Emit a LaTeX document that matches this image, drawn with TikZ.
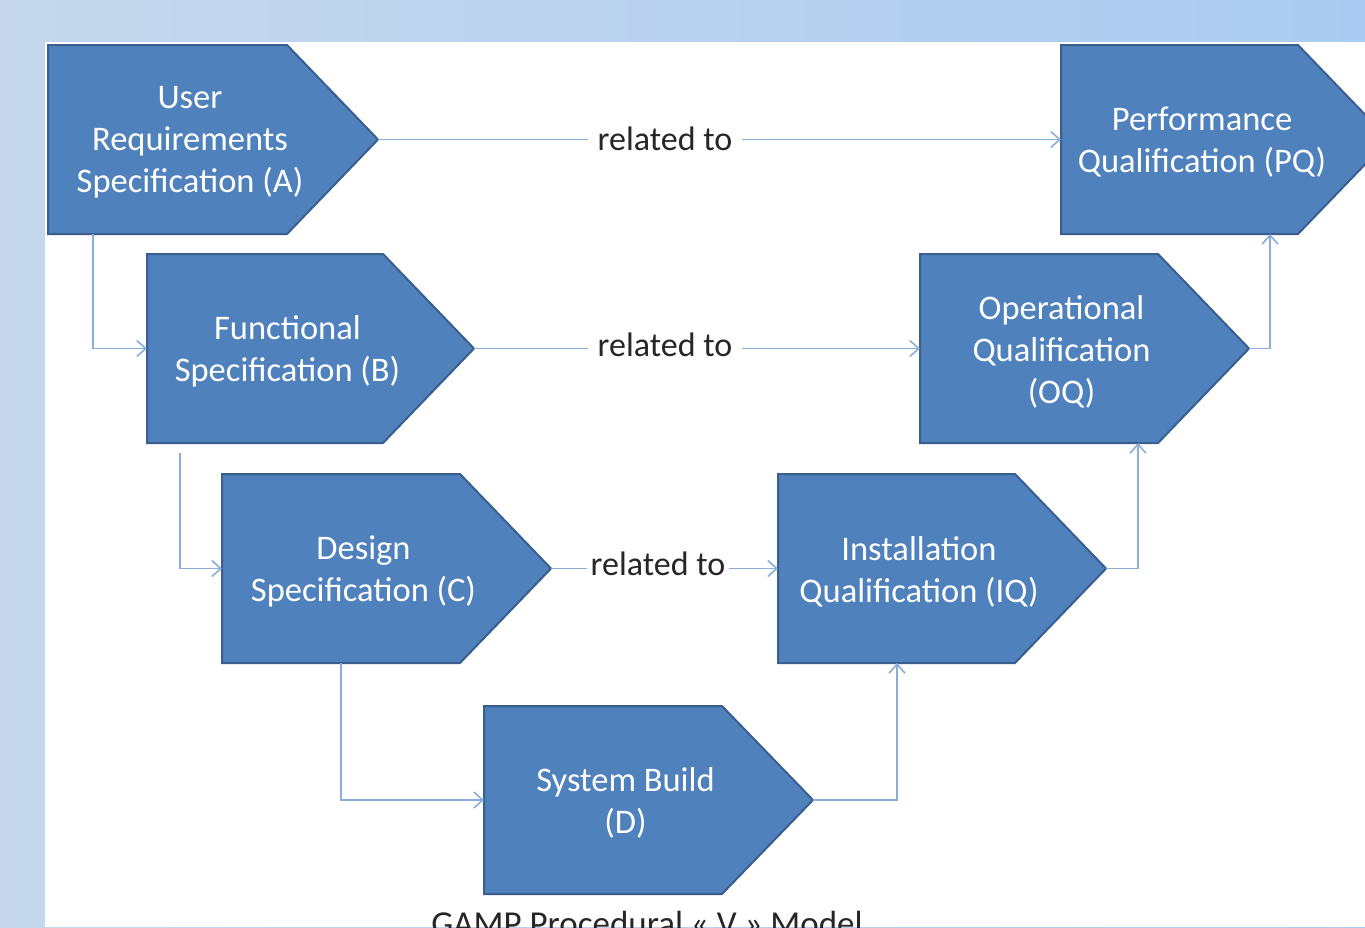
\documentclass[tikz,border=0pt]{standalone}
\usepackage{fontspec}
\setmainfont{Carlito}
\usetikzlibrary{arrows.meta}

\definecolor{boxblue}{HTML}{4F81BD}
\definecolor{boxedge}{HTML}{3A5F8E}
\definecolor{linkblue}{HTML}{8AAEDB}
\definecolor{labelgray}{HTML}{262626}
\definecolor{bgleft}{HTML}{C6D7EC}
\definecolor{bgright}{HTML}{AACBF1}

\tikzset{
  stepshape/.style={fill=boxblue, draw=boxedge, line width=2pt, line join=miter},
  steptext/.style={text=white, align=center, font=\fontsize{34.5}{42}\selectfont, inner sep=0pt},
  link/.style={draw=linkblue, line width=1.6pt,
    -{Straight Barb[length=9pt,width=16pt,line width=1.6pt]}},
  rel/.style={fill=white, text=labelgray, font=\fontsize{34}{38}\selectfont,
    inner xsep=10pt, inner ysep=2pt},
  captext/.style={text=labelgray, font=\fontsize{35}{40}\selectfont, inner sep=0pt, anchor=base},
}

% one stage of the V: name, left x, top y, x where the point starts, height, label
\newcommand\vstage[6]{%
  \path[stepshape] (#2,#3) -- (#4,#3) -- ({#4+91},{#3+#5/2}) -- (#4,{#3+#5})
    -- (#2,{#3+#5}) -- cycle;
  \node[steptext] (#1) at ({(#2+#4+45)/2},{#3+#5/2+3}) {#6};
  \coordinate (#1-in) at (#2,{#3+#5/2});
  \coordinate (#1-tip) at ({#4+91},{#3+#5/2});
}

\begin{document}
\begin{tikzpicture}[x=1pt, y=-1pt]
  \useasboundingbox (0,0) rectangle (1365,927);
  \clip (0,0) rectangle (1365,927);

  % page background and sheet
  \shade[left color=bgleft, right color=bgright] (0,0) rectangle (1365,927);
  \fill[white] (45,42) rectangle (1365,927);

  % stages
  \vstage{A}{48}{45}{287}{189}{User\\Requirements\\Specification (A)}
  \vstage{B}{147}{254}{383}{189}{Functional\\Specification (B)}
  \vstage{C}{222}{474}{460}{189}{Design\\Specification (C)}
  \vstage{D}{484}{706}{722}{188}{System Build\\(D)}
  \vstage{IQ}{778}{474}{1015}{189}{Installation\\Qualification (IQ)}
  \vstage{OQ}{920}{254}{1158}{189}{Operational\\Qualification\\(OQ)}
  \vstage{PQ}{1061}{45}{1298}{189}{Performance\\Qualification (PQ)}

  % connector end points on the box edges
  \coordinate (A-down) at (93,234);
  \coordinate (B-down) at (180,453);
  \coordinate (C-down) at (341,663);
  \coordinate (IQ-up) at (897,663);
  \coordinate (OQ-up) at (1138,443);
  \coordinate (PQ-up) at (1270,234);

  % down the left leg
  \draw[link] (A-down) |- (B-in);
  \draw[link] (B-down) |- (C-in);
  \draw[link] (C-down) |- (D-in);

  % up the right leg
  \draw[link] (D-tip) -| (IQ-up);
  \draw[link] (IQ-tip) -| (OQ-up);
  \draw[link] (OQ-tip) -| (PQ-up);

  % relations across the V
  \draw[link] (A-tip) -- (PQ-in);
  \node[rel] (relA) at (665,139) {related to};
  \draw[link] (B-tip) -- (OQ-in);
  \node[rel] (relB) at (665,345) {related to};
  \draw[link] (C-tip) -- (IQ-in);
  \node[rel, inner xsep=4pt] (relC) at (658,564) {related to};

  % caption along the lower edge of the sheet
  \node[captext] (cap) at (647,935) {GAMP Procedural « V » Model};
\end{tikzpicture}
\end{document}
